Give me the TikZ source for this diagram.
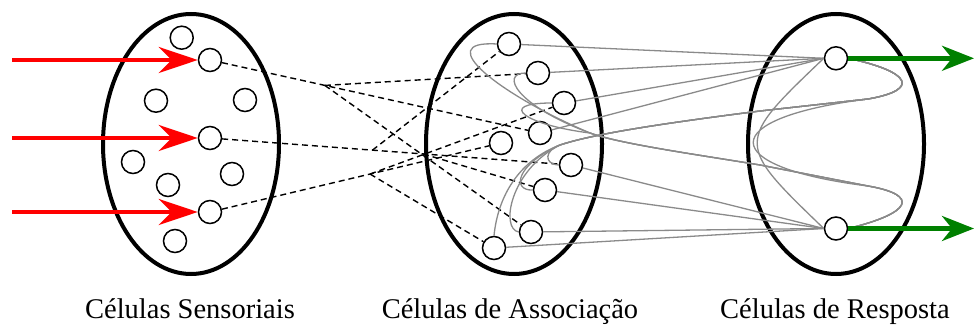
\documentclass[tikz,border=0pt]{standalone}
\usepackage{fontspec}
\setmainfont{Liberation Serif}
\usetikzlibrary{arrows.meta, shapes.geometric, calc}
\definecolor{inRed}{HTML}{FF0000}
\definecolor{outGreen}{HTML}{008000}
\definecolor{wireGray}{HTML}{8A8A8A}
\tikzset{
  cellC/.style={circle, draw=black, fill=white, line width=1.5pt,
                minimum size=23pt, inner sep=0pt},
  groupE/.style={ellipse, draw=black, line width=4pt, inner sep=0pt,
                 minimum width=176pt, minimum height=260pt},
  arrowIn/.style={-{Stealth[length=39pt, width=26pt, inset=13pt]}, inRed, line width=4.5pt},
  arrowOut/.style={-{Stealth[length=32pt, width=25pt, inset=10pt]}, outGreen, line width=4.5pt},
  linkD/.style={black, line width=1.4pt, dash pattern=on 6pt off 4pt},
  linkG/.style={wireGray, line width=1.3pt},
  labelT/.style={anchor=base, font=\fontsize{28.5}{34}\selectfont},
}
\begin{document}
\begin{tikzpicture}[x=1pt, y=-1pt]
        \useasboundingbox (0,0) rectangle (974,328);
        \node[groupE] (sens) at (191,144) {};
        \node[groupE] (assoc) at (514,144) {};
        \node[groupE] (resp) at (836,144) {};

        \node[cellC] (s1) at (181.7,37.7) {};
        \node[cellC] (s2) at (210,60) {};
        \node[cellC] (s3) at (156,100.7) {};
        \node[cellC] (s4) at (245,100) {};
        \node[cellC] (s5) at (210,138) {};
        \node[cellC] (s6) at (133,162) {};
        \node[cellC] (s7) at (232,174) {};
        \node[cellC] (s8) at (168,185) {};
        \node[cellC] (s9) at (210,212) {};
        \node[cellC] (s10) at (175,241) {};

        \node[cellC] (a1) at (509,44) {};
        \node[cellC] (a2) at (538,73) {};
        \node[cellC] (a3) at (564,103) {};
        \node[cellC] (a4) at (540,133) {};
        \node[cellC] (a5) at (501,143) {};
        \node[cellC] (a6) at (571,165) {};
        \node[cellC] (a7) at (545,190) {};
        \node[cellC] (a8) at (531,232) {};
        \node[cellC] (a9) at (494,248) {};

        \node[cellC] (r1) at (836,58.3) {};
        \node[cellC] (r2) at (836,228.5) {};

        \coordinate (j1) at ($(s2)!0.348!(a4)$);
        \coordinate (j2) at ($(s5)!0.45!(a6)$);
        \coordinate (j4) at ($(s5)!0.59!(a6)$);
        \coordinate (j3) at ($(s9)!0.55!(a5)$);

        \draw[linkD] (s2) -- (a4); \draw[linkD] (j1) -- (a2); \draw[linkD] (j1) -- (a8);
        \draw[linkD] (s5) -- (a6); \draw[linkD] (j2) -- (a1); \draw[linkD] (j4) -- (a7);
        \draw[linkD] (s9) -- (a5); \draw[linkD] (j3) -- (a3); \draw[linkD] (j3) -- (a9);

        \draw[linkG] (a1) -- (r1.west); \draw[linkG] (a2) -- (r1.west);
        \draw[linkG] (a3) -- (r1.west); \draw[linkG] (a4) -- (r1.west);
        \draw[linkG] (a6) -- (r2.west); \draw[linkG] (a7) -- (r2.west);
        \draw[linkG] (a8) -- (r2.west); \draw[linkG] (a9) -- (r2.west);

        \draw[linkG] (a1.west) .. controls (430,40) and (500,95) .. (590,133)
              .. controls (620,144) and (700,155) .. (760,165) -- (868,186)
              .. controls (920,195) and (912,213) .. (r2.east);
        \draw[linkG] (a2.west) .. controls (500,73) and (515,105) .. (590,133)
              .. controls (620,144) and (700,155) .. (760,165) -- (868,186)
              .. controls (920,195) and (912,213) .. (r2.east);
        \draw[linkG] (a3.west) .. controls (495,103) and (525,125) .. (590,133)
              .. controls (620,144) and (700,155) .. (760,165) -- (868,186)
              .. controls (920,195) and (912,213) .. (r2.east);

        \draw[linkG] (a9.north) .. controls (498,195) and (520,160) .. (560,145)
              .. controls (590,135) and (650,125) .. (760,111) -- (868,99)
              .. controls (920,90) and (912,72) .. (r1.east);
        \draw[linkG] (a8.west) .. controls (500,229) and (510,170) .. (560,145)
              .. controls (590,135) and (650,125) .. (760,111) -- (868,99)
              .. controls (920,90) and (912,72) .. (r1.east);
        \draw[linkG] (a7.west) .. controls (512,191) and (515,165) .. (560,145)
              .. controls (590,135) and (650,125) .. (760,111) -- (868,99)
              .. controls (920,90) and (912,72) .. (r1.east);
        \draw[linkG] (a6.west) .. controls (543,164) and (545,150) .. (560,145)
              .. controls (590,135) and (650,125) .. (760,111) -- (868,99)
              .. controls (920,90) and (912,72) .. (r1.east);

        \draw[linkG] (r1.east) .. controls (912,72) and (920,90) .. (868,99)
              .. controls (715,118) and (715,167) .. (868,186)
              .. controls (920,195) and (912,213) .. (r2.east);
        \draw[linkG] (r1.west) .. controls (735,143) and (735,143) .. (r2.west);

        \coordinate (in1) at (12,60);
        \coordinate (in2) at (12,138);
        \coordinate (in3) at (12,212);
        \coordinate (out1) at (974,58.3);
        \coordinate (out2) at (974,228.5);
        \draw[arrowIn] (in1) -- (s2.west); \draw[arrowIn] (in2) -- (s5.west);
        \draw[arrowIn] (in3) -- (s9.west);
        \draw[arrowOut] (r1.east) -- (out1); \draw[arrowOut] (r2.east) -- (out2);

        \node[labelT] (tsens) at (190,319) {Células Sensoriais};
        \node[labelT] (tassoc) at (510,319) {Células de Associação};
        \node[labelT] (tresp) at (835,319) {Células de Resposta};
      \end{tikzpicture}
\end{document}
